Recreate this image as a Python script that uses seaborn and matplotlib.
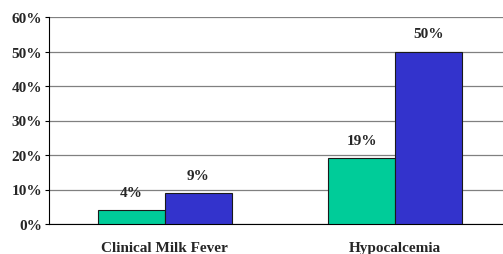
import pandas as pd
import matplotlib
matplotlib.use('Agg')
import matplotlib.pyplot as plt
import seaborn as sns

categories = ['Clinical Milk Fever', 'Hypocalcemia']
series_names = ['Group A', 'Group B']
series_a = [4, 19]
series_b = [9, 50]
bar_labels_a = ['4%', '19%']
bar_labels_b = ['9%', '50%']
y_ticks = [0, 10, 20, 30, 40, 50, 60]
colors = ['#00CC99', '#3333CC']

df = pd.DataFrame({
    'category': categories * 2,
    'series': [series_names[0]] * 2 + [series_names[1]] * 2,
    'value': series_a + series_b,
    'label': bar_labels_a + bar_labels_b,
})

sns.set_style('white')
plt.rcParams['font.family'] = ['Liberation Serif', 'DejaVu Serif']

fig = plt.figure(figsize=(5.03, 2.55), dpi=100)
ax = fig.add_axes([49 / 503, 1 - 225 / 255, 1 - 49 / 503, (225 - 18) / 255])

sns.barplot(data=df, x='category', y='value', hue='series', palette=colors,
            saturation=1, width=0.58, edgecolor='#1a1a1a', linewidth=0.8,
            ax=ax, legend=False, zorder=3)

for container, labels in zip(ax.containers, [bar_labels_a, bar_labels_b]):
    ax.bar_label(container, labels=labels, padding=8, fontsize=11,
                 fontweight='bold')

ax.set_xlim(-0.504, 1.47)
ax.set_ylim(0, 60)
ax.set_yticks(y_ticks)
ax.set_yticklabels([f'{t}%' for t in y_ticks], fontsize=11, fontweight='bold')
ax.tick_params(axis='x', labelsize=11, pad=12)
for lbl in ax.get_xticklabels():
    lbl.set_fontweight('bold')
ax.tick_params(axis='y', length=3, width=0.8, color='black', left=True, pad=2)
ax.tick_params(axis='x', length=0)
ax.yaxis.grid(True, color='#808080', linewidth=0.9, zorder=0)
ax.set_axisbelow(True)
ax.set_xlabel('')
ax.set_ylabel('')
for side in ['top', 'right']:
    ax.spines[side].set_visible(False)
ax.spines['left'].set_color('black')
ax.spines['left'].set_linewidth(0.8)
ax.spines['bottom'].set_color('black')
ax.spines['bottom'].set_linewidth(0.8)

fig.savefig('out.png', dpi=100)
